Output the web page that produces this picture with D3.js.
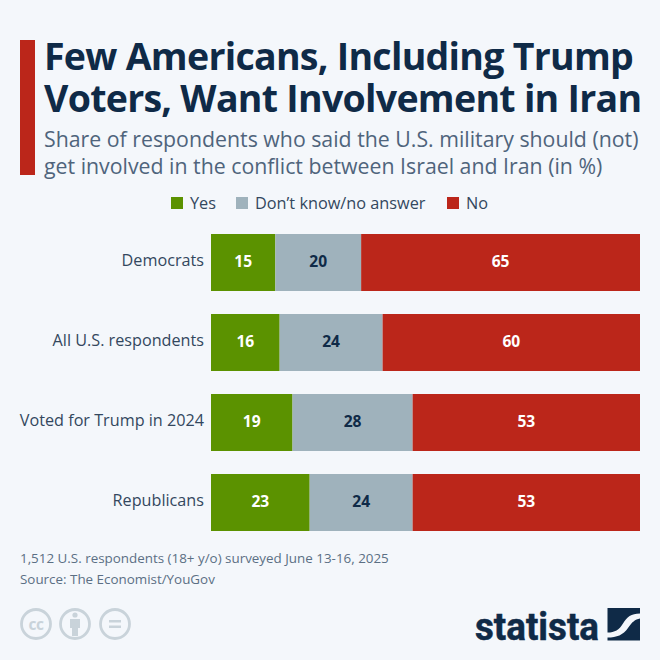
<!DOCTYPE html>
<html><head><meta charset="utf-8">
<script src="https://cdn.jsdelivr.net/npm/d3@7"></script>
<style>html,body{margin:0;padding:0;background:#f4f7fb}svg{display:block}text{font-family:"Open Sans",sans-serif}</style>
</head><body><svg id="c" width="660" height="660"></svg>
<script>
const categories=["Democrats","All U.S. respondents","Voted for Trump in 2024","Republicans"];
const seriesNames=["Yes","Don’t know/no answer","No"];
const yes=[15,16,19,23];
const dontKnow=[20,24,28,24];
const no=[65,60,53,53];
const seriesColors=["#5b9200","#9fb2bc","#bb261a"];
const labelColors=["#ffffff","#0f2a47","#ffffff"];
const titleLines=["Few Americans, Including Trump","Voters, Want Involvement in Iran"];
const subtitleLines=["Share of respondents who said the U.S. military should (not)","get involved in the conflict between Israel and Iran (in %)"];
const noteLines=["1,512 U.S. respondents (18+ y/o) surveyed June 13-16, 2025","Source: The Economist/YouGov"];

const svg=d3.select("#c");
svg.append("rect").attr("width",660).attr("height",660).attr("fill","#f4f7fb");
svg.append("rect").attr("x",20).attr("y",40).attr("width",15).attr("height",135).attr("fill","#bb261a");
const tt=svg.append("text").attr("font-size",37.5).attr("font-weight",700).attr("letter-spacing",-0.72).attr("fill","#0f2a47");
titleLines.forEach((t,i)=>tt.append("tspan").attr("x",44).attr("y",[69.5,111.5][i]).text(t));
const st=svg.append("text").attr("font-size",21.3).attr("fill","#4f647c");
subtitleLines.forEach((t,i)=>st.append("tspan").attr("x",44).attr("y",[146.5,174][i]).text(t));

const x=d3.scaleLinear().domain([0,100]).range([211,640]);
const y=d3.scaleBand().domain(categories).range([234,531]).paddingInner(0.2875).paddingOuter(0);
const rows=categories.map((c,i)=>({c,v:[yes[i],dontKnow[i],no[i]]}));
const stack=d3.stack().keys([0,1,2]).value((d,k)=>d.v[k])(rows);
stack.forEach((s,k)=>{
  const g=svg.append("g");
  g.selectAll("rect").data(s).join("rect")
    .attr("x",d=>x(d[0])).attr("width",d=>x(d[1])-x(d[0]))
    .attr("y",d=>y(d.data.c)).attr("height",y.bandwidth()).attr("fill",seriesColors[k]);
  g.selectAll("text").data(s).join("text")
    .attr("x",d=>(x(d[0])+x(d[1]))/2).attr("y",d=>y(d.data.c)+y.bandwidth()/2+4.5)
    .attr("text-anchor","middle").attr("font-size",15.6).attr("font-weight",700)
    .attr("fill",labelColors[k]).text(d=>d[1]-d[0]);
});
const yAxis=d3.axisLeft(y).tickSize(0).tickPadding(7);
const ag=svg.append("g").attr("transform","translate(211,-1.5)").call(yAxis);
ag.select(".domain").remove();
ag.selectAll("text").attr("font-size",16.2).attr("fill","#33475e").style("font-family",'"Open Sans",sans-serif');

const legendX=[171,236,447];
seriesNames.forEach((n,i)=>{
  svg.append("rect").attr("x",legendX[i]).attr("y",197).attr("width",12).attr("height",12).attr("fill",seriesColors[i]);
  svg.append("text").attr("x",legendX[i]+19).attr("y",209).attr("font-size",16.3).attr("fill","#33475e").text(n);
});
noteLines.forEach((t,i)=>svg.append("text").attr("x",20).attr("y",[563,584][i]).attr("font-size",13.4).attr("fill","#5b6f84").text(t));

// licence icons
const ic="#c9d3da";
[36,75,115].forEach(cx=>svg.append("circle").attr("cx",cx).attr("cy",624).attr("r",14.5).attr("fill","none").attr("stroke",ic).attr("stroke-width",2.8));
svg.append("text").attr("x",36).attr("y",629.5).attr("text-anchor","middle").attr("font-size",15.5).attr("font-weight",700).attr("fill",ic).attr("letter-spacing",-0.5).text("cc");
svg.append("circle").attr("cx",75).attr("cy",615).attr("r",2.6).attr("fill",ic);
svg.append("path").attr("d","M70 619h10v9h-2v8h-6v-8h-2z").attr("fill",ic);
svg.append("path").attr("d","M109 620h12v2.6h-12zM109 625.5h12v2.6h-12z").attr("fill",ic);

// logo
svg.append("text").attr("x",475).attr("y",640).attr("font-size",39).attr("font-weight",700).attr("fill","#0f2a47")
  .attr("stroke","#0f2a47").attr("stroke-width",0.5)
  .attr("textLength",124).attr("lengthAdjust","spacingAndGlyphs").style("font-family",'"Liberation Sans Narrow","Roboto",sans-serif').text("statista");
svg.append("path").attr("d","M607.5 608H640V613.5C631 613.5 627 617 623 623.5C619 630 615 632.5 607.5 632.5Z").attr("fill","#0f2a47");
svg.append("path").attr("d","M640 618.5V640.5H607.5V637.5C617 637.5 623 635 628 628C632 622 635 619.5 640 618.5Z").attr("fill","#0f2a47");
</script></body></html>
